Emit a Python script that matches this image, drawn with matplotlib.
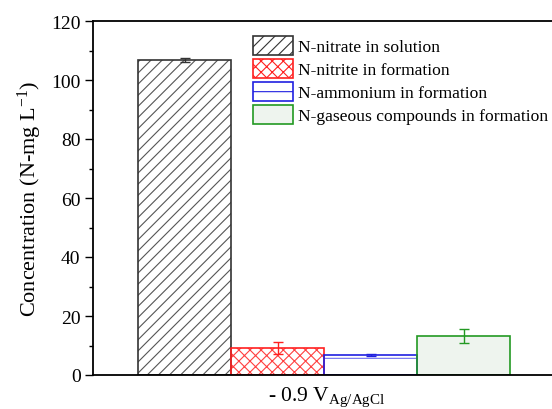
import matplotlib
matplotlib.use("Agg")
import matplotlib.pyplot as plt
from matplotlib.ticker import MultipleLocator

plt.rcParams['font.family'] = ['Liberation Serif', 'DejaVu Serif']
plt.rcParams['mathtext.fontset'] = 'custom'
plt.rcParams['mathtext.rm'] = 'Liberation Serif'
plt.rcParams['mathtext.it'] = 'Liberation Serif:italic'
plt.rcParams['hatch.linewidth'] = 0.8

labels = ['N-nitrate in solution', 'N-nitrite in formation',
          'N-ammonium in formation', 'N-gaseous compounds in formation']
values = [106.7, 9.2, 6.8, 13.2]
errors = [0.7, 2.0, 0.3, 2.4]
edge_colors = ['#333333', '#ff2020', '#2020e0', '#229922']
hatch_colors = ['#555555', '#ff4040', '#7070f0', '#229922']
face_colors = ['white', 'white', 'white', '#eef4ee']
hatches = ['///', 'xxx', '-', '']
yticks = [0, 20, 40, 60, 80, 100, 120]
xlabel = r'- 0.9 V$_{\mathrm{Ag/AgCl}}$'
ylabel = r'Concentration (N-mg L$^{-1}$)'

W, H = 552, 410
fig = plt.figure(figsize=(W/100, H/100), dpi=100)
l, r, b, t = 93, 560, 376, 22
ax = fig.add_axes([l/W, 1-b/H, (r-l)/W, (b-t)/H])

x = list(range(len(values)))
for i in x:
    # hatch layer (lighter colour)
    ax.bar(i, values[i], width=1.0, color=face_colors[i], edgecolor=hatch_colors[i],
           hatch=hatches[i], linewidth=0, zorder=2)
    # outline layer
    ax.bar(i, values[i], width=1.0, color='none', edgecolor=edge_colors[i],
           linewidth=1.2, zorder=2.5)
    ax.errorbar(i, values[i], yerr=errors[i], fmt='none', ecolor=edge_colors[i],
                elinewidth=1.0, capsize=3.5, capthick=1.0, zorder=3)

ax.set_xlim(-0.5 - 45/93, -0.5 + (r-138)/93)
ax.set_ylim(0, 120)
ax.set_yticks(yticks)
ax.yaxis.set_minor_locator(MultipleLocator(10))
ax.set_xticks([])
ax.tick_params(axis='y', which='major', direction='out', length=6, width=1, labelsize=14, pad=3)
ax.tick_params(axis='y', which='minor', direction='out', length=3, width=1)
for s in ax.spines.values():
    s.set_linewidth(1.3)
    s.set_color('black')

ax.set_xlabel(xlabel, fontsize=15.5, labelpad=7)
ax.set_ylabel(ylabel, fontsize=16, labelpad=5)

from matplotlib.patches import Patch
handles = [Patch(facecolor=face_colors[i], edgecolor=edge_colors[i], hatch=hatches[i],
                 linewidth=1.2) for i in x]
leg = ax.legend(handles, labels, loc='upper left', bbox_to_anchor=(246/W, 1-30/H),
                bbox_transform=fig.transFigure,
                frameon=False, fontsize=12.6, handlelength=2.3, handleheight=1.3,
                handletextpad=0.3, labelspacing=0.2, borderaxespad=0)

fig.savefig('out.png', dpi=100)
